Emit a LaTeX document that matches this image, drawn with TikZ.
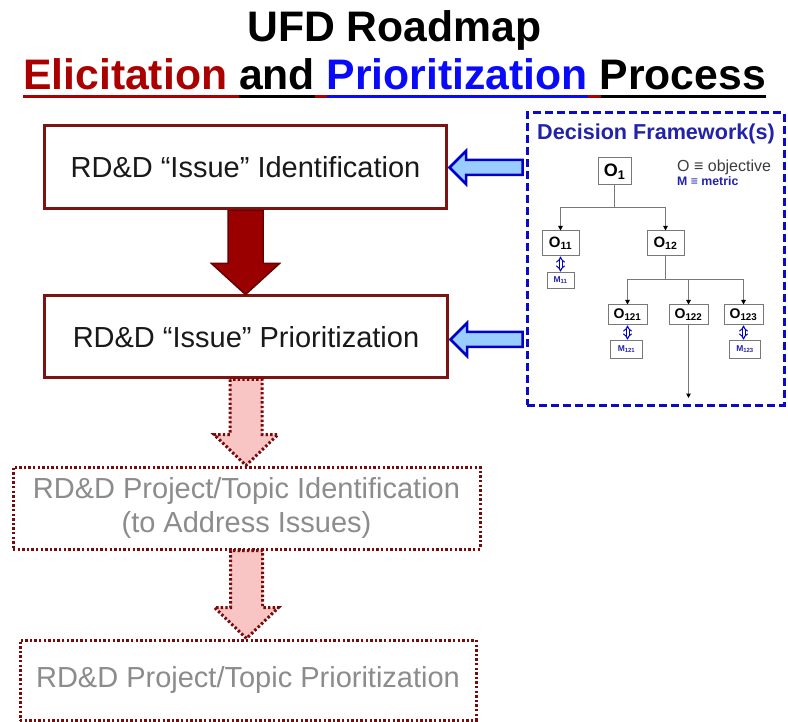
\documentclass[tikz,border=0pt]{standalone}
\usepackage{fontspec}
\setmainfont{Liberation Sans}
\usetikzlibrary{arrows.meta,calc}

\definecolor{titlered}{RGB}{170,0,0}
\definecolor{titleblue}{RGB}{10,10,250}
\definecolor{boxred}{RGB}{125,20,20}
\definecolor{arrowred}{RGB}{155,0,0}
\definecolor{arrowedge}{RGB}{105,0,0}
\definecolor{pinkfill}{RGB}{248,196,196}
\definecolor{dotred}{RGB}{120,10,10}
\definecolor{fadetext}{RGB}{140,140,140}
\definecolor{lightblue}{RGB}{153,204,255}
\definecolor{edgeblue}{RGB}{0,0,200}
\definecolor{frameblue}{RGB}{10,10,200}
\definecolor{headblue}{RGB}{35,35,170}
\definecolor{treegray}{RGB}{120,120,120}
\definecolor{legendgray}{RGB}{60,60,60}

\newcommand\fsz[1]{\fontsize{#1}{#1}\selectfont}

\tikzset{
  stagebox/.style={draw=boxred, line width=3pt, fill=white, inner sep=0pt,
    font=\fsz{29}, text=black!90},
  laterbox/.style={draw=dotred, line width=3pt, dash pattern=on 2.4pt off 2.2pt,
    fill=white, inner sep=0pt, font=\fsz{29}, text=fadetext, align=center},
  bigdown/.style={fill=arrowred, draw=arrowedge, line width=1.5pt, line join=miter},
  pinkdown/.style={fill=pinkfill, draw=dotred, line width=3pt,
    dash pattern=on 2.4pt off 2.2pt},
  leftblue/.style={fill=lightblue, draw=edgeblue, line width=2.5pt, line join=miter},
  frame/.style={draw=frameblue, line width=3pt, dash pattern=on 8pt off 4pt, fill=white},
  treebox/.style={draw=treegray, line width=1pt, fill=white, inner sep=0pt},
  treeline/.style={draw=treegray, line width=1pt},
  treetip/.style={-{Triangle[length=4.5pt,width=4.5pt,color=black]}},
  metricbox/.style={draw=treegray, line width=0.8pt, fill=white, inner sep=0pt,
    text=headblue, font=\fsz{8.5}\bfseries},
  metriclink/.style={draw=edgeblue, line width=1pt, double=white,
    double distance=2pt, {Implies[length=2.6pt,width=8pt]}-{Implies[length=2.6pt,width=8pt]}},
}

\begin{document}
\begin{tikzpicture}[x=1pt, y=-1pt]
\useasboundingbox[fill=white] (0,0) rectangle (788,722);

% title
\node[anchor=base, inner sep=0pt, font=\fsz{42.7}\bfseries] (title) at (394.5,42) {UFD Roadmap};
\node[anchor=base west, inner sep=0pt, font=\fsz{42.7}\bfseries] (subtitle) at (23,90)
  {\textcolor{titlered}{Elicitation} and \textcolor{titleblue}{Prioritization} Process};
\begin{scope}[line width=3.5pt]
  \draw[titlered]  (23,96.5) -- (239,96.5);
  \draw[black]     (239,96.5) -- (314.5,96.5);
  \draw[titlered]  (314.5,96.5) -- (327,96.5);
  \draw[titleblue] (327,96.5) -- (588,96.5);
  \draw[titlered]  (588,96.5) -- (600.5,96.5);
  \draw[black]     (600.5,96.5) -- (766,96.5);
\end{scope}

% process stages
\node[stagebox, minimum width=402pt, minimum height=83pt] (b1) at (245.5,167.5)
  {RD\&D “Issue” Identification};
\node[stagebox, minimum width=403pt, minimum height=82pt] (b2) at (246,337)
  {RD\&D “Issue” Prioritization};
\node[laterbox, minimum width=467pt, minimum height=82pt] (b3) at (246.5,508)
  {RD\&D Project/Topic Identification\\[5pt](to Address Issues)};
\node[laterbox, minimum width=456pt, minimum height=80pt] (b4) at (248,680)
  {RD\&D Project/Topic Prioritization};

% block arrows between stages
\path[bigdown] let \p1=(b1.south), \p2=(b2.north) in
  (\x1-17.5pt,\y1) -- (\x1-17.5pt,\y2+31pt) -- (\x1-34pt,\y2+31pt) -- (\x1,\y2)
  -- (\x1+34pt,\y2+31pt) -- (\x1+17.5pt,\y2+31pt) -- (\x1+17.5pt,\y1) -- cycle;
\path[pinkdown] let \p1=(b2.south), \p2=(b3.north) in
  (\x1-16pt,\y1) -- (\x1-16pt,\y2+31pt) -- (\x1-32pt,\y2+31pt) -- (\x1,\y2)
  -- (\x1+32pt,\y2+31pt) -- (\x1+16pt,\y2+31pt) -- (\x1+16pt,\y1) -- cycle;
\path[pinkdown] let \p1=(b3.south), \p2=(b4.north) in
  (\x1-16pt,\y1) -- (\x1-16pt,\y2+31pt) -- (\x1-32pt,\y2+31pt) -- (\x1,\y2)
  -- (\x1+32pt,\y2+31pt) -- (\x1+16pt,\y2+31pt) -- (\x1+16pt,\y1) -- cycle;

% decision framework panel
\node[frame, minimum width=257pt, minimum height=292pt] (fw) at (655.5,259) {};
\node[anchor=base, inner sep=0pt, font=\fsz{21.6}\bfseries, text=headblue] (fwtitle)
  at (656,140) {Decision Framework(s)};
\node[anchor=base west, inner sep=0pt, font=\fsz{16}, text=legendgray] (legO)
  at (677,172) {O ≡ objective};
\node[anchor=base west, inner sep=0pt, font=\fsz{12.3}\bfseries, text=headblue] (legM)
  at (677,186) {M ≡ metric};

% feedback arrows from the panel
\path[leftblue] let \p1=(b1.east), \p2=(fw.west) in
  (\x2-3pt,\y1+7.5pt) -- (\x1+18pt,\y1+7.5pt) -- (\x1+18pt,\y1+16.5pt) -- (\x1+1.5pt,\y1)
  -- (\x1+18pt,\y1-16.5pt) -- (\x1+18pt,\y1-7.5pt) -- (\x2-3pt,\y1-7.5pt) -- cycle;
\path[leftblue] let \p1=($(b2.east)+(0,2.5)$), \p2=(fw.west) in
  (\x2-3pt,\y1+7.5pt) -- (\x1+18pt,\y1+7.5pt) -- (\x1+18pt,\y1+16.5pt) -- (\x1+1.5pt,\y1)
  -- (\x1+18pt,\y1-16.5pt) -- (\x1+18pt,\y1-7.5pt) -- (\x2-3pt,\y1-7.5pt) -- cycle;

% objective tree
\node[treebox, minimum width=33pt, minimum height=27pt, font=\fsz{18}\bfseries] (o1)
  at (614.5,171.5) {O\textsubscript{1}};
\node[treebox, minimum width=37pt, minimum height=25pt, font=\fsz{15}\bfseries] (o11)
  at (560.5,243.5) {O\textsubscript{11}};
\node[treebox, minimum width=37pt, minimum height=25pt, font=\fsz{15}\bfseries] (o12)
  at (665.5,243.5) {O\textsubscript{12}};
\node[treebox, minimum width=39pt, minimum height=20pt, font=\fsz{14}\bfseries] (o121)
  at (627.5,315) {O\textsubscript{121}};
\node[treebox, minimum width=39pt, minimum height=20pt, font=\fsz{14}\bfseries] (o122)
  at (688.5,315) {O\textsubscript{122}};
\node[treebox, minimum width=39pt, minimum height=20pt, font=\fsz{14}\bfseries] (o123)
  at (743.5,315) {O\textsubscript{123}};
\node[metricbox, minimum width=27pt, minimum height=16pt] (m11) at (560.5,280)
  {M\textsubscript{11}};
\node[metricbox, minimum width=32pt, minimum height=18pt] (m121) at (626.5,349)
  {M\textsubscript{121}};
\node[metricbox, minimum width=31pt, minimum height=18pt] (m123) at (745,349)
  {M\textsubscript{123}};

\coordinate (j1) at (614.5,208);
\coordinate (j2) at (665.5,280);
\coordinate (tail) at (688.5,398);
\draw[treeline] (o1.south) -- (j1);
\draw[treeline, treetip] (j1) -| (o11.north);
\draw[treeline, treetip] (j1) -| (o12.north);
\draw[treeline] (o12.south) -- (j2);
\draw[treeline, treetip] (j2) -| (o121.north);
\draw[treeline, treetip] (j2) -| (o122.north);
\draw[treeline, treetip] (j2) -| (o123.north);
\draw[treeline, treetip] (o122.south) -- (tail);

\draw[metriclink] (o11.south) -- (m11.north);
\draw[metriclink] (o121.south) -- (o121.south |- m121.north);
\draw[metriclink] (o123.south) -- (o123.south |- m123.north);
\end{tikzpicture}
\end{document}
